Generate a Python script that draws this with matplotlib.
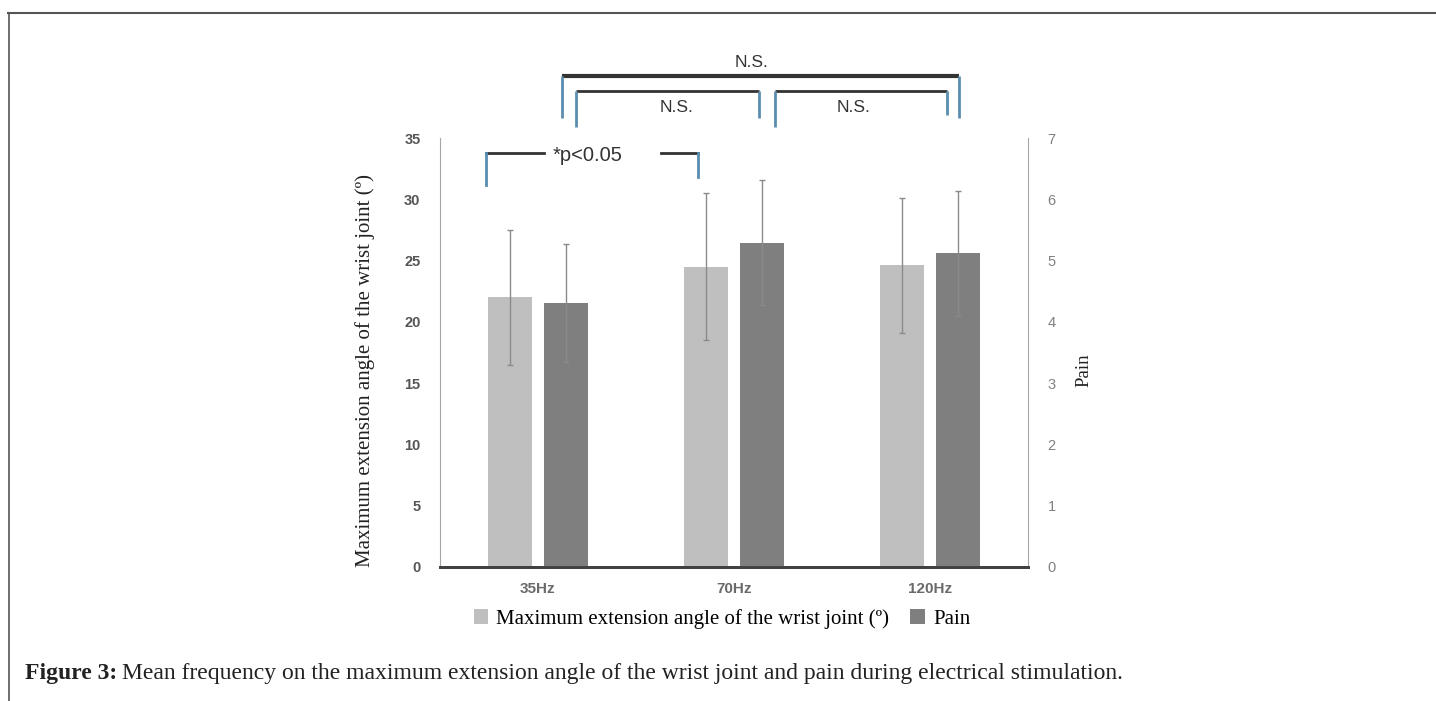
import matplotlib
matplotlib.use("Agg")
import matplotlib.pyplot as plt
import numpy as np

# data
freqs = ["35Hz", "70Hz", "120Hz"]
angle_mean = [22.0, 24.5, 24.6]
angle_sd = [5.5, 6.0, 5.5]
pain_mean = [4.31, 5.29, 5.12]
pain_sd = [0.96, 1.02, 1.02]
angle_label = "Maximum extension angle of the wrist joint (\u00ba)"
pain_label = "Pain"

serif = ["Liberation Serif", "DejaVu Serif"]
sans = ["Liberation Sans", "DejaVu Sans"]

fig = plt.figure(figsize=(14.36, 7.01), dpi=100)
ax = fig.add_axes([440/1436, 1-567/701, 588/1436, 429/701])
ax2 = ax.twinx()

x = np.arange(len(freqs))
w = 0.22
off = 0.143
err_kw = dict(ecolor="#8a8a8a", elinewidth=1, capsize=2, capthick=1)
b1 = ax.bar(x - off, angle_mean, w, yerr=angle_sd, color="#bfbfbf",
            error_kw=err_kw, label=angle_label, zorder=2)
b2 = ax2.bar(x + off, pain_mean, w, yerr=pain_sd, color="#7f7f7f",
             error_kw=err_kw, label=pain_label, zorder=2)

ax.set_xlim(-0.5, 2.5)
ax.set_ylim(0, 35)
ax2.set_ylim(0, 7)
ax.set_yticks(range(0, 36, 5))
ax2.set_yticks(range(0, 8))
ax.set_xticks(x)
ax.set_xticklabels(freqs, fontsize=11, fontweight="bold", color="#6a6a6a", family=sans)

for a in (ax, ax2):
    a.spines["top"].set_visible(False)
    a.spines["left"].set_color("#a6a6a6")
    a.spines["right"].set_color("#a6a6a6")
    a.spines["bottom"].set_color("#404040")
    a.spines["bottom"].set_linewidth(2)
ax.spines["right"].set_visible(False)
ax2.spines["left"].set_visible(False)

ax.tick_params(axis="y", length=0, pad=14, labelsize=10.5, labelcolor="#555555")
ax.tick_params(axis="x", length=0, pad=11)
for t in ax.get_yticklabels():
    t.set_fontweight("bold")
    t.set_family(sans)
ax2.tick_params(axis="y", length=0, pad=14, labelsize=10.5, labelcolor="#808080")
for t in ax2.get_yticklabels():
    t.set_family(sans)

ax.set_ylabel(angle_label, family=serif, fontsize=15, color="#222222")
ax.yaxis.set_label_coords(-0.11, 0.457)
ax2.set_ylabel(pain_label, family=serif, fontsize=13.5, color="#222222")
ax2.yaxis.set_label_coords(1.08, 0.459)

# significance brackets (x in category units, y in angle units)
hcol = "#333333"
vcol = "#5b8db0"

def bracket(x0, x1, y, yl0, yl1, lw=2):
    ax.plot([x0, x1], [y, y], color=hcol, lw=lw, clip_on=False, solid_capstyle="butt")
    ax.plot([x0, x0], [y, yl0], color=vcol, lw=2, clip_on=False, solid_capstyle="butt")
    ax.plot([x1, x1], [y, yl1], color=vcol, lw=2, clip_on=False, solid_capstyle="butt")

bracket(0.122, 2.148, 40.05, 36.6, 36.6, lw=3)
bracket(0.194, 1.128, 38.8, 35.9, 36.6)
bracket(1.209, 2.087, 38.8, 35.9, 36.9)
ns_kw = dict(ha="center", va="center", fontsize=12.5, color="#333333", family=sans)
ax.text(1.09, 41.2, "N.S.", **ns_kw)
ax.text(0.705, 37.5, "N.S.", **ns_kw)
ax.text(1.61, 37.5, "N.S.", **ns_kw)

# *p<0.05 bracket with a gap for the text
ax.plot([-0.265, 0.03], [33.8, 33.8], color=hcol, lw=2, clip_on=False)
ax.plot([0.628, 0.816], [33.8, 33.8], color=hcol, lw=2, clip_on=False)
ax.plot([-0.265, -0.265], [33.8, 31.2], color=vcol, lw=2, clip_on=False)
ax.plot([0.816, 0.816], [33.8, 31.8], color=vcol, lw=2, clip_on=False)
ax.text(0.255, 33.6, "*p<0.05", ha="center", va="center", fontsize=14.5, color="#333333", family=sans)

fig.legend(handles=[b1, b2], loc="center", bbox_to_anchor=(722/1436, 1-619/701),
           ncol=2, frameon=False, handlelength=0.7, handleheight=0.7,
           handletextpad=0.4, columnspacing=1.0, prop={"family": serif, "size": 15})

# page frame
fig.add_artist(plt.Line2D([8/1436, 1], [1-12.7/701]*2, color="#555555", lw=1.5))
fig.add_artist(plt.Line2D([9/1436]*2, [0, 1-12.7/701], color="#555555", lw=1.2))

# caption
cap_y = 1-673/701
t1 = fig.text(25/1436, cap_y, "Figure 3:", fontsize=17, fontweight="bold",
              family=serif, color="#222222", va="center")
fig.canvas.draw()
bb = t1.get_window_extent()
fig.text((bb.x1 + 5)/1436, cap_y,
         "Mean frequency on the maximum extension angle of the wrist joint and pain during electrical stimulation.",
         fontsize=17, family=serif, color="#222222", va="center")

fig.savefig("out.png", dpi=100)
